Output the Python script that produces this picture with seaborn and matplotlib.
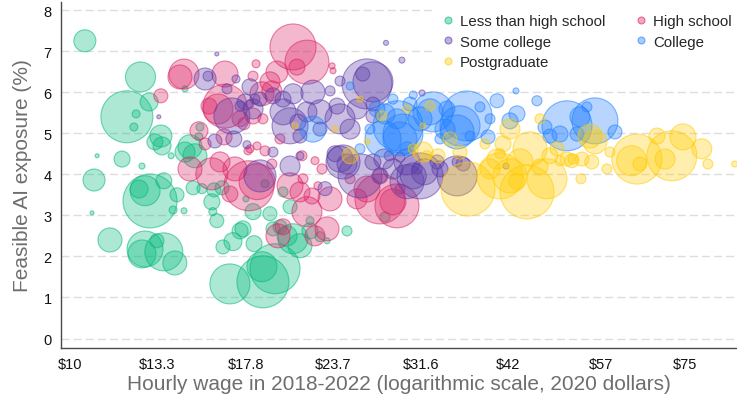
import numpy as np
import pandas as pd
import matplotlib
matplotlib.use("Agg")
import matplotlib.pyplot as plt
import seaborn as sns
from matplotlib.lines import Line2D
from matplotlib.colors import to_rgba
from matplotlib.ticker import FixedLocator, NullLocator

# ---------------- data ----------------
groups = ["Less than high school", "High school", "Some college", "College", "Postgraduate"]
colors = ["#00B87A", "#DC2366", "#5B3AA6", "#1F7FFF", "#FFCC00"]

x_ticks = [10, 13.3, 17.8, 23.7, 31.6, 42, 57, 75]
x_tick_labels = ["$10", "$13.3", "$17.8", "$23.7", "$31.6", "$42", "$57", "$75"]
y_ticks = [0, 1, 2, 3, 4, 5, 6, 7, 8]

# Less than high school: hourly wage, feasible AI exposure (%), workers (thousands)
lths_wage = [10.5, 12.6, 12.05, 12.96, 12.42, 12.33, 13.47, 13.21, 13.52, 14.82, 15.06, 15.26, 10.93, 11.86,
             12.66, 13.93, 10.82, 13.0, 12.54, 12.79, 13.6, 14.2, 14.02, 14.53, 10.75, 11.4, 12.79, 12.66, 13.3,
             13.6, 14.1, 16.89, 18.82, 18.76, 19.58, 15.97, 16.18, 16.51, 17.06, 17.46, 18.28, 15.92, 16.03, 16.46,
             14.97, 15.41, 14.58, 20.37, 21.25, 19.9, 19.45, 21.96, 22.69, 23.22, 24.79, 20.57, 20.1, 19.26, 18.22,
             18.95, 17.8, 20.77, 17.63, 21.96, 28.08, 14.58, 15.31]
lths_exp = [7.25, 6.37, 5.40, 5.76, 5.47, 5.15, 4.93, 4.79, 4.69, 4.67, 4.45, 4.91, 4.45, 4.37, 4.20, 4.45, 3.86,
            3.35, 3.64, 3.60, 3.84, 3.50, 3.13, 3.11, 3.06, 2.40, 2.18, 2.06, 2.38, 2.11, 1.84, 1.33, 1.38, 1.75,
            1.70, 3.09, 2.87, 2.23, 2.36, 2.62, 2.31, 3.33, 3.62, 3.67, 3.67, 3.65, 4.54, 2.50, 2.26, 2.72, 2.67,
            2.62, 2.48, 2.38, 2.62, 3.21, 3.57, 3.04, 3.09, 3.77, 3.40, 2.43, 2.67, 2.87, 2.96, 6.08, 5.15]
lths_workers = [484, 900, 2704, 324, 64, 64, 484, 256, 324, 576, 576, 64, 16, 256, 36, 36, 484, 2916, 324, 900,
                256, 196, 64, 36, 16, 576, 1296, 784, 196, 1444, 576, 1600, 2704, 900, 2500, 64, 196, 196, 324,
                256, 256, 256, 196, 196, 196, 100, 400, 400, 576, 196, 196, 256, 100, 36, 100, 196, 100, 196, 256,
                64, 36, 900, 256, 64, 100, 36, 64]

hs_wage = [20.77, 21.74, 19.71, 21.04, 19.26, 18.22, 23.61, 23.68, 14.53, 14.34, 16.62, 13.47, 16.62, 16.24, 18.4,
           15.77, 15.26, 16.57, 18.04, 17.46, 18.22, 18.82, 19.38, 18.76, 19.9, 18.46, 17.92, 14.82, 15.92, 16.35,
           17.17, 17.98, 18.46, 20.57, 21.25, 22.54, 23.45, 21.74, 23.22, 22.32, 20.1, 19.77, 22.1, 21.46, 21.39,
           22.32, 22.84, 18.04, 18.95, 27.62, 29.2, 26.47, 25.62, 25.04, 27.62, 29.49, 28.82, 19.38, 16.89, 15.57,
           17.69]
hs_exp = [7.10, 6.73, 6.49, 6.61, 6.25, 6.39, 6.64, 6.52, 6.44, 6.37, 6.44, 5.91, 5.66, 5.59, 6.69, 5.66, 5.06,
          4.91, 5.71, 5.35, 5.42, 5.35, 6.03, 5.96, 4.86, 4.69, 4.57, 4.13, 4.01, 4.30, 4.13, 3.72, 3.82, 3.72,
          3.57, 3.72, 3.40, 3.09, 2.67, 2.50, 2.72, 2.50, 3.47, 3.89, 4.45, 4.33, 4.13, 4.62, 4.57, 3.40, 3.23,
          3.64, 3.40, 3.89, 3.96, 3.64, 3.33, 4.25, 3.52, 4.74, 5.23]
hs_workers = [2116, 1936, 484, 256, 400, 100, 36, 36, 900, 576, 676, 196, 1936, 900, 64, 256, 324, 256, 64, 256,
              256, 100, 400, 576, 100, 64, 64, 576, 1024, 400, 576, 2500, 1296, 676, 400, 64, 576, 900, 576, 400,
              256, 576, 256, 100, 100, 64, 100, 64, 100, 2500, 1936, 676, 400, 100, 196, 100, 676, 100, 256, 144,
              144]

sc_wage = [15.57, 15.72, 16.18, 13.38, 17.0, 17.46, 16.73, 17.23, 17.75, 18.34, 16.08, 17.11, 17.86, 18.64, 26.47,
           26.99, 26.1, 24.23, 23.45, 22.17, 20.77, 20.1, 19.45, 18.64, 18.04, 18.22, 20.1, 20.57, 21.74, 22.69,
           24.23, 25.04, 23.99, 25.62, 26.99, 26.99, 21.25, 21.11, 22.69, 24.23, 23.84, 24.79, 26.99, 27.98, 28.47,
           30.8, 31.95, 20.57, 19.45, 21.25, 25.87, 24.47, 27.62, 30.18, 31.49, 35.56, 30.18, 28.82, 29.49, 33.3,
           35.56, 36.27, 31.19, 41.75, 28.17, 29.68, 31.7, 33.62, 23.07]
sc_exp = [6.32, 6.39, 6.93, 5.40, 5.42, 5.66, 6.08, 6.32, 5.76, 5.83, 4.81, 4.86, 4.72, 3.96, 6.20, 6.25, 6.44,
          6.27, 6.03, 6.00, 5.96, 5.83, 5.91, 5.83, 6.13, 5.59, 5.52, 5.18, 5.52, 5.52, 5.35, 5.10, 5.66, 5.59,
          5.71, 5.42, 4.93, 5.27, 5.10, 4.37, 4.50, 4.25, 4.30, 4.37, 4.45, 3.96, 4.06, 4.20, 4.54, 4.45, 3.96,
          4.30, 3.96, 3.82, 3.96, 3.96, 4.30, 4.13, 4.42, 4.30, 4.30, 4.25, 4.13, 4.20, 7.20, 6.78, 5.98, 4.13,
          3.65]
sc_workers = [484, 100, 16, 16, 1296, 100, 100, 64, 256, 100, 196, 256, 64, 1024, 2500, 1600, 196, 100, 100, 576,
              400, 256, 256, 196, 256, 400, 676, 1296, 400, 576, 900, 400, 256, 400, 196, 196, 196, 256, 196, 676,
              256, 400, 256, 400, 100, 676, 676, 400, 100, 64, 1936, 1156, 256, 1156, 2116, 1600, 676, 400, 100,
              196, 100, 196, 100, 36, 25, 36, 36, 256, 196]

col_wage = [29.3, 32.87, 36.74, 35.9, 34.4, 40.53, 43.13, 43.27, 46.2, 39.61, 39.35, 50.98, 55.87, 54.42, 59.66,
            52.67, 47.43, 27.35, 28.08, 28.82, 29.2, 31.49, 32.54, 29.49, 27.9, 30.18, 29.78, 35.56, 33.62, 37.1,
            49.82, 48.21, 22.17, 25.04, 25.87, 38.33, 30.48, 30.8, 34.18, 26.73, 53.19, 42.29]
col_exp = [5.18, 5.52, 5.42, 5.18, 5.59, 5.79, 6.03, 5.47, 5.79, 5.35, 4.91, 5.18, 5.30, 5.64, 5.03, 4.98, 5.15,
           5.59, 5.47, 5.83, 5.35, 5.35, 5.52, 4.86, 4.86, 4.62, 4.98, 5.03, 4.86, 4.93, 4.98, 4.93, 5.10, 6.15,
           4.62, 5.64, 5.71, 5.93, 5.10, 5.10, 5.40, 5.30]
col_workers = [2500, 1600, 2500, 1600, 256, 196, 36, 256, 100, 100, 196, 2500, 2116, 100, 196, 196, 196, 256, 400,
               100, 400, 576, 676, 1156, 1296, 196, 1600, 1156, 100, 100, 256, 196, 676, 64, 100, 100, 196, 64,
               400, 100, 400, 256]

pg_wage = [64.1, 63.0, 71.9, 70.3, 74.56, 79.3, 80.9, 88.3, 54.96, 55.87, 58.69, 58.1, 55.3, 53.54, 50.98, 51.99,
           53.37, 42.29, 47.74, 42.29, 45.16, 40.53, 39.61, 43.7, 48.21, 49.34, 51.82, 49.82, 34.74, 35.9, 33.4,
           32.2, 31.8, 36.86, 40.93, 44.72, 43.27, 46.66, 41.34, 68.47, 64.75, 30.18, 30.8, 31.8, 26.47, 25.04,
           20.9, 27.8, 23.84, 46.66, 40.93, 38.97, 25.87, 32.54]
pg_exp = [4.37, 4.33, 4.45, 4.37, 4.91, 4.62, 4.25, 4.25, 4.93, 4.79, 4.54, 4.13, 4.30, 4.37, 4.37, 4.37, 3.89,
          3.96, 3.89, 5.10, 4.62, 4.37, 4.13, 4.30, 4.45, 4.62, 4.33, 4.33, 4.86, 4.54, 4.45, 4.45, 5.18, 3.64,
          3.96, 3.57, 3.82, 4.18, 4.74, 4.93, 4.25, 5.59, 4.62, 4.54, 4.79, 4.45, 5.18, 5.42, 5.10, 5.35, 4.50,
          4.74, 5.83, 5.66]
pg_workers = [2500, 900, 2500, 400, 676, 400, 100, 36, 576, 576, 100, 100, 196, 196, 196, 100, 100, 1156, 1600,
              400, 1156, 400, 400, 676, 256, 196, 196, 100, 196, 196, 196, 100, 36, 2916, 2116, 2916, 256, 256,
              256, 256, 196, 64, 100, 400, 36, 256, 36, 100, 36, 100, 100, 100, 36, 100]

# ---------------- build table ----------------
frames = []
for g, w, e, n in [(groups[0], lths_wage, lths_exp, lths_workers),
                   (groups[1], hs_wage, hs_exp, hs_workers),
                   (groups[2], sc_wage, sc_exp, sc_workers),
                   (groups[3], col_wage, col_exp, col_workers),
                   (groups[4], pg_wage, pg_exp, pg_workers)]:
    frames.append(pd.DataFrame({"wage": w, "exposure": e, "workers": n, "education": g}))
df = pd.concat(frames, ignore_index=True)

# ---------------- plot ----------------
sns.set_style("white")
plt.rcParams["font.family"] = ["Liberation Sans", "DejaVu Sans"]

fig = plt.figure(figsize=(7.37, 4.02), dpi=100)
ax = fig.add_axes([61 / 737, 53 / 402, 676 / 737, 346 / 402])

wmax = 3000
sns.scatterplot(data=df, x="wage", y="exposure", hue="education", hue_order=groups,
                palette=dict(zip(groups, colors)), size="workers", sizes=(0, wmax * 0.518),
                size_norm=(0, wmax), alpha=0.3, linewidth=0.8, legend=False, ax=ax, zorder=3)

for coll in ax.collections:
    fc = np.array(coll.get_facecolors())
    if len(fc) == 0:
        continue
    coll.set_alpha(None)
    ec = fc.copy()
    fc[:, 3] = 0.32
    ec[:, 3] = 0.55
    coll.set_facecolors(fc)
    coll.set_edgecolors(ec)

ax.set_xscale("log")
ax.set_xlim(9.71, 89.0)
ax.set_ylim(-0.231, 8.195)
ax.xaxis.set_major_locator(FixedLocator(x_ticks))
ax.xaxis.set_minor_locator(NullLocator())
ax.set_xticklabels(x_tick_labels)
ax.set_yticks(y_ticks)

ax.yaxis.grid(True, linestyle=(0, (5.8, 2.9)), color="#dddddd", linewidth=1, zorder=0)
ax.xaxis.grid(False)
ax.set_axisbelow(True)

for s in ["top", "right"]:
    ax.spines[s].set_visible(False)
for s in ["left", "bottom"]:
    ax.spines[s].set_color("#4a4a4a")
    ax.spines[s].set_linewidth(1.0)

ax.tick_params(axis="both", direction="out", length=3.6, width=1, color="#4a4a4a",
               labelsize=10.5, labelcolor="#111111", pad=3)

ax.set_xlabel("Hourly wage in 2018-2022 (logarithmic scale, 2020 dollars)", fontsize=15,
              color="#6e6e6e", labelpad=2)
ax.set_ylabel("Feasible AI exposure (%)", fontsize=15, color="#6e6e6e", labelpad=8)

handles = [Line2D([], [], marker="o", linestyle="", markersize=5,
                  markerfacecolor=to_rgba(c, 0.4), markeredgecolor=to_rgba(c, 0.6), markeredgewidth=0.8)
           for c in colors]
order = [0, 2, 4, 1, 3]
leg = ax.legend([handles[i] for i in order], [groups[i] for i in order], ncol=2, loc="upper left",
                bbox_to_anchor=(0.551, 0.988), frameon=True, facecolor="white", edgecolor="none",
                framealpha=1, fontsize=10.8, handlelength=0.8, handletextpad=0.4, columnspacing=2.0,
                labelspacing=0.42, borderpad=0.55, borderaxespad=0)
leg.set_zorder(5)

fig.savefig("out.png", dpi=100)
